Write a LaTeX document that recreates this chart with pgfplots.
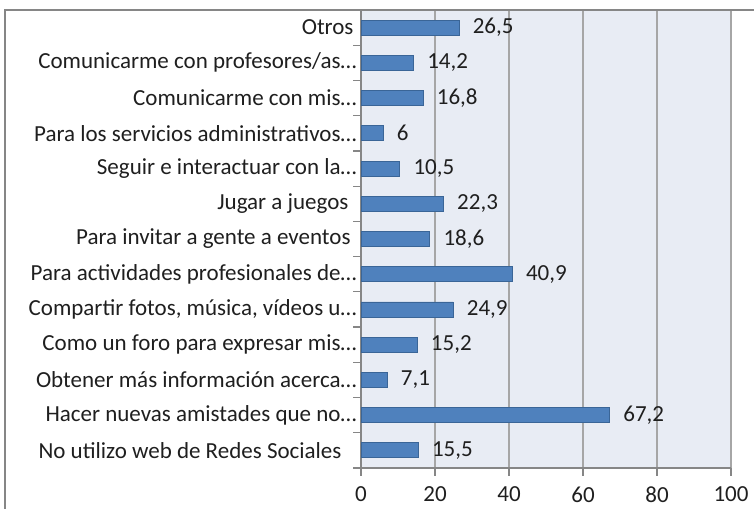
\documentclass[border=0pt]{standalone}
\usepackage{pgfplots}
\pgfplotsset{compat=1.18}
\usepackage{pgfplotstable}
\usepackage{fontspec}
\setmainfont{Carlito}
\definecolor{barfill}{HTML}{4F81BD}
\definecolor{baredge}{HTML}{3A6597}
\definecolor{bg}{HTML}{E8ECF4}
\definecolor{gridc}{HTML}{A6A6A6}
\definecolor{axc}{HTML}{868686}
\definecolor{txt}{HTML}{1F1F1F}
\pgfplotstableread{
idx val
0 15.5
1 67.2
2 7.1
3 15.2
4 24.9
5 40.9
6 18.6
7 22.3
8 10.5
9 6
10 16.8
11 14.2
12 26.5
}\data
\newcommand{\lf}{\fontsize{23bp}{27bp}\selectfont}
\begin{document}
\begin{tikzpicture}
\begin{axis}[
  xbar, bar width=15bp,
  scale only axis, width=370bp, height=458bp,
  at={(361bp,41bp)}, anchor=south west,
  xmin=0, xmax=100, ymin=-0.5, ymax=12.5,
  axis x line*=bottom, axis y line*=left,
  axis line style={axc, line width=1.2bp},
  axis background/.style={fill=bg},
  xtick={0,20,...,100},
  xmajorgrids, major grid style={gridc, line width=1.5bp},
  tick align=outside, major tick length=8bp,
  tick style={axc, line width=1.2bp},
  ytick={-0.5,0.5,...,12.5}, yticklabels={},
  extra y ticks={0,...,12},
  extra y tick style={major tick length=0pt, tick style={draw=none}},
  extra y tick labels={
    {No utilizo web de Redes Sociales\kern15bp},
    {Hacer nuevas amistades que no…},
    {Obtener más información acerca…},
    {Como un foro para expresar mis…},
    {Compartir fotos, música, vídeos u…},
    {Para actividades profesionales de…},
    {Para invitar a gente a eventos\kern6bp},
    {Jugar a juegos\kern8bp},
    {Seguir e interactuar con la…},
    {Para los servicios administrativos…},
    {Comunicarme con mis…},
    {Comunicarme con profesores/as…},
    {Otros\kern3bp}},
  tick label style={font=\lf, text=txt},
  y tick label style={xshift=-1bp},
  x tick label style={yshift=-7bp},
  /pgf/number format/assume math mode=true,
  /pgf/number format/use comma,
  nodes near coords,
  nodes near coords style={anchor=west, xshift=10bp, font=\lf, text=txt},
  clip=false,
]
\addplot[fill=barfill, draw=baredge, line width=0.8bp] table[x=val, y=idx] {\data};
\end{axis}
\draw[axc, line width=2bp] (5bp,-5bp) -- (5bp,499bp) -- (760bp,499bp);
\pgfresetboundingbox
\useasboundingbox (0,0) rectangle (754bp,509bp);
\end{tikzpicture}
\end{document}
